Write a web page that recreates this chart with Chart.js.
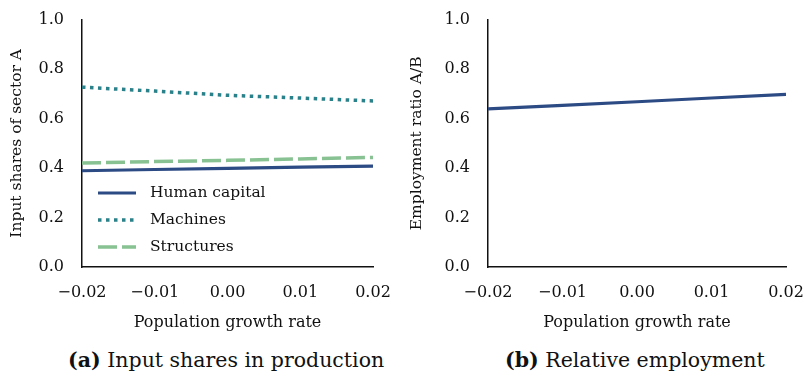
<!DOCTYPE html>
<html>
<head>
<meta charset="utf-8">
<script src="https://cdn.jsdelivr.net/npm/chart.js@4"></script>
<style>
  body { margin: 0; background: #fff; width: 805px; height: 378px; position: relative; overflow: hidden; font-family: "DejaVu Serif", serif; }
  .panel { position: absolute; top: 0; }
  #panelA { left: 0; width: 400px; height: 340px; }
  #panelB { left: 400px; width: 405px; height: 340px; }
  .caption { position: absolute; top: 348px; font-size: 20.5px; color: #111; white-space: nowrap; }
  .caption b { font-weight: bold; }
</style>
</head>
<body>
<div class="panel" id="panelA"><canvas id="chartA"></canvas></div>
<div class="panel" id="panelB"><canvas id="chartB"></canvas></div>
<div class="caption" style="left:68px"><b>(a)</b> Input shares in production</div>
<div class="caption" style="left:505px"><b>(b)</b> Relative employment</div>
<script>
const growthRates = [-0.02, -0.01, 0.00, 0.01, 0.02];
const humanCapital = [0.389, 0.394, 0.399, 0.404, 0.408];
const machines = [0.727, 0.711, 0.694, 0.683, 0.671];
const structures = [0.420, 0.426, 0.431, 0.437, 0.443];
const employmentRatio = [0.639, 0.653, 0.668, 0.683, 0.698];
const yTicks = [0.0, 0.2, 0.4, 0.6, 0.8, 1.0];

const FONT = "DejaVu Serif";
const ink = '#111';

function points(ys) {
    return growthRates.map((x, i) => ({ x: x, y: ys[i] }));
}

function minusSign(s) {
    return s.replace('-', '\u2212');
}

// legend drawn inside the plot area, lower left
const innerLegend = {
    id: 'innerLegend',
    afterDatasetsDraw(chart, args, opts) {
        if (!opts.show) return;
        const ctx = chart.ctx;
        const x0 = chart.chartArea.left + 16;
        let y = opts.top;
        ctx.save();
        chart.data.datasets.forEach(ds => {
            ctx.beginPath();
            ctx.strokeStyle = ds.borderColor;
            ctx.lineWidth = ds.borderWidth;
            ctx.setLineDash(ds.borderDash || []);
            ctx.moveTo(x0, y);
            ctx.lineTo(x0 + 38, y);
            ctx.stroke();
            ctx.setLineDash([]);
            ctx.fillStyle = ink;
            ctx.font = '15.5px "' + FONT + '"';
            ctx.textBaseline = 'middle';
            ctx.fillText(ds.label, x0 + 52, y);
            y += 27;
        });
        ctx.restore();
    }
};

function makeOptions(yTitle, yWidth, pad, showLegend) {
    return {
        responsive: true,
        maintainAspectRatio: false,
        animation: false,
        layout: { padding: pad },
        plugins: {
            legend: { display: false },
            tooltip: { enabled: false },
            innerLegend: { show: showLegend, top: 193 }
        },
        elements: { point: { radius: 0 } },
        scales: {
            x: {
                type: 'linear',
                min: -0.02,
                max: 0.02,
                grid: { display: false, drawTicks: true, tickLength: 8, tickColor: ink },
                border: { color: ink, width: 1.5 },
                ticks: {
                    stepSize: 0.01,
                    color: ink,
                    font: { family: FONT, size: 16 },
                    padding: 8,
                    maxRotation: 0,
                    callback: v => minusSign(v.toFixed(2))
                },
                title: {
                    display: true,
                    text: 'Population growth rate',
                    color: ink,
                    font: { family: FONT, size: 16 },
                    padding: { top: 4, bottom: 8 }
                },
                afterFit: s => {
                    s.height = 73;
                    // let the layout padding alone decide the plot edges
                    s.paddingLeft = 0;
                    s.paddingRight = 0;
                }
            },
            y: {
                min: 0,
                max: 1,
                afterBuildTicks: s => { s.ticks = yTicks.map(v => ({ value: v })); },
                grid: { display: false, drawTicks: true, tickLength: 8, tickColor: ink },
                border: { color: ink, width: 1.5 },
                ticks: {
                    color: ink,
                    font: { family: FONT, size: 16 },
                    padding: 10,
                    callback: v => v.toFixed(1)
                },
                title: {
                    display: true,
                    text: yTitle,
                    color: ink,
                    font: { family: FONT, size: 15.5 },
                    padding: { top: 8, bottom: 2 }
                },
                afterFit: s => { s.width = yWidth; }
            }
        }
    };
}

new Chart(document.getElementById('chartA'), {
    type: 'line',
    data: {
        datasets: [
            { label: 'Human capital', data: points(humanCapital), borderColor: '#2c4a84', borderWidth: 3.2 },
            { label: 'Machines', data: points(machines), borderColor: '#2a8189', borderWidth: 3.5, borderDash: [3.5, 4.5] },
            { label: 'Structures', data: points(structures), borderColor: '#88c293', borderWidth: 3.5, borderDash: [19, 5] }
        ]
    },
    options: makeOptions('Input shares of sector A', 82, { left: 0, right: 27, top: 18, bottom: 0 }, true),
    plugins: [innerLegend]
});

new Chart(document.getElementById('chartB'), {
    type: 'line',
    data: {
        datasets: [
            { label: 'Employment ratio', data: points(employmentRatio), borderColor: '#2c4a84', borderWidth: 3.2 }
        ]
    },
    options: makeOptions('Employment ratio A/B', 88, { left: 0, right: 19, top: 13, bottom: 0 }, false),
    plugins: [innerLegend]
});
</script>
</body>
</html>
